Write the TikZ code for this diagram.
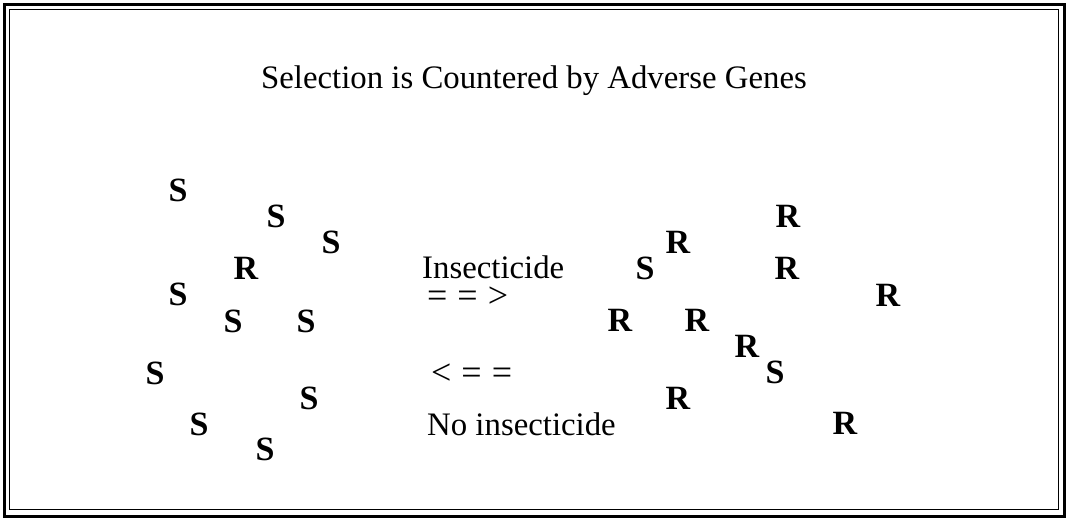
\documentclass[tikz,border=0pt]{standalone}
\usepackage{fontspec}
\setmainfont{Liberation Serif}
\usepackage{tikz}

\begin{document}
\begin{tikzpicture}[x=1pt,y=-1pt,
  allele/.style={font=\fontsize{34}{36}\selectfont\bfseries,inner sep=0pt},
  caption/.style={font=\fontsize{32.8}{36}\selectfont,inner sep=0pt},
  arrowtext/.style={font=\fontsize{36}{36}\selectfont,inner sep=0pt,
    text height=14pt,text depth=0pt}]
\useasboundingbox (0,0) rectangle (1067,520);
% double frame
\draw[line width=3pt] (4,4) rectangle (1064,516);
\draw[line width=1.8pt] (9.5,9.5) rectangle (1058.5,509.5);
% title
\node[caption,anchor=base] (title) at (534,88) {Selection is Countered by Adverse Genes};
% population before insecticide
\node[allele] (l1) at (178,190) {S};
\node[allele] (l2) at (276,216) {S};
\node[allele] (l3) at (331,242) {S};
\node[allele] (l4) at (246,268) {R};
\node[allele] (l5) at (178,294) {S};
\node[allele] (l6) at (233,321) {S};
\node[allele] (l7) at (306,321) {S};
\node[allele] (l8) at (155,373) {S};
\node[allele] (l9) at (309,398) {S};
\node[allele] (l10) at (199,424) {S};
\node[allele] (l11) at (265,449) {S};
% population after insecticide
\node[allele] (r1) at (788,216) {R};
\node[allele] (r2) at (678,242) {R};
\node[allele] (r3) at (645,268) {S};
\node[allele] (r4) at (787,268) {R};
\node[allele] (r5) at (888,295) {R};
\node[allele] (r6) at (620,320) {R};
\node[allele] (r7) at (697,320) {R};
\node[allele] (r8) at (747,346) {R};
\node[allele] (r9) at (775,372) {S};
\node[allele] (r10) at (678,398) {R};
\node[allele] (r11) at (845,423) {R};
% middle labels
\node[caption,anchor=base west] (ins) at (422,278) {Insecticide};
\node[arrowtext,anchor=base west] (fwd) at (427,307) {=\hspace{10pt}=\hspace{10pt}>};
\node[arrowtext,anchor=base west] (back) at (431,384) {<\hspace{10pt}=\hspace{10pt}=};
\node[caption,anchor=base west] (noins) at (427,435) {No insecticide};
\end{tikzpicture}
\end{document}
